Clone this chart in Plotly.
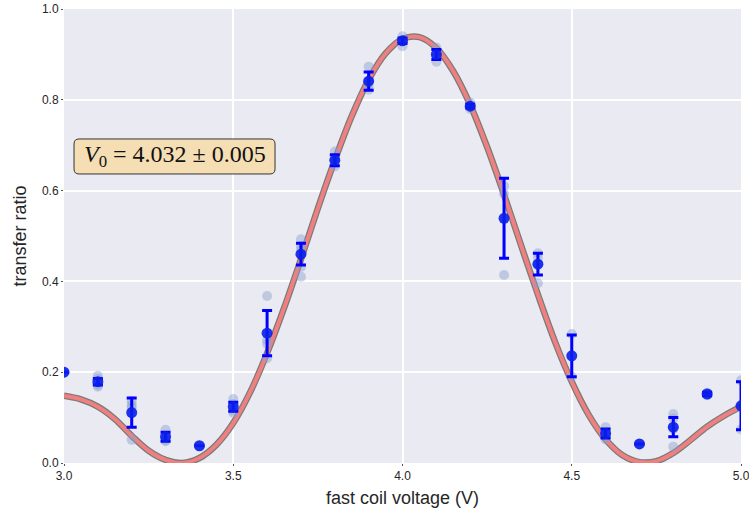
import plotly.graph_objects as go

# measured points (mean and error) per voltage
voltages = [3.0, 3.1, 3.2, 3.3, 3.4, 3.5, 3.6, 3.7, 3.8, 3.9, 4.0, 4.1, 4.2, 4.3, 4.4, 4.5, 4.6, 4.7, 4.8, 4.9, 5.0]
means = [0.200, 0.179, 0.111, 0.058, 0.038, 0.124, 0.286, 0.460, 0.667, 0.841, 0.930, 0.900, 0.786,
         0.539, 0.438, 0.236, 0.065, 0.042, 0.079, 0.152, 0.126]
errors = [0.0, 0.007, 0.032, 0.010, 0.0, 0.010, 0.050, 0.024, 0.012, 0.020, 0.006, 0.011, 0.004,
          0.088, 0.024, 0.046, 0.010, 0.0, 0.021, 0.004, 0.053]

# individual samples
samples = [
    [0.200],
    [0.192, 0.185, 0.172, 0.168],
    [0.136, 0.128, 0.122, 0.051],
    [0.073, 0.060, 0.050, 0.048],
    [0.038],
    [0.141, 0.130, 0.115, 0.110],
    [0.368, 0.271, 0.262, 0.231],
    [0.493, 0.478, 0.470, 0.432, 0.410],
    [0.686, 0.668, 0.653, 0.660],
    [0.873, 0.840, 0.830, 0.822],
    [0.940, 0.930, 0.918],
    [0.915, 0.900, 0.884],
    [0.794, 0.785, 0.780],
    [0.610, 0.593, 0.414],
    [0.462, 0.452, 0.440, 0.396],
    [0.284, 0.190],
    [0.079, 0.068, 0.060, 0.052],
    [0.042],
    [0.108, 0.098, 0.075, 0.036],
    [0.155, 0.150],
    [0.182, 0.074],
]

# fitted curve
curve_x = [3.00, 3.05, 3.10, 3.15, 3.20, 3.25, 3.30, 3.35, 3.40, 3.45, 3.50, 3.55, 3.60, 3.65, 3.70,
           3.75, 3.80, 3.85, 3.90, 3.95, 4.00, 4.05, 4.10, 4.15, 4.20, 4.25, 4.30, 4.35, 4.40, 4.45,
           4.50, 4.55, 4.60, 4.65, 4.70, 4.75, 4.80, 4.85, 4.90, 4.95, 5.00]
curve_y = [0.148, 0.140, 0.124, 0.097, 0.060, 0.027, 0.007, 0.000, 0.011, 0.040, 0.088, 0.156, 0.242,
           0.341, 0.449, 0.561, 0.667, 0.764, 0.844, 0.902, 0.934, 0.938, 0.914, 0.863, 0.789, 0.696,
           0.591, 0.480, 0.371, 0.268, 0.179, 0.106, 0.052, 0.017, 0.002, 0.004, 0.022, 0.050, 0.080,
           0.104, 0.124]

annotation_text = "<i>V</i><sub>0</sub> = 4.032 ± 0.005"
x_ticks = [3.0, 3.5, 4.0, 4.5, 5.0]
y_ticks = [0.0, 0.2, 0.4, 0.6, 0.8, 1.0]

sx, sy = [], []
for v, s in zip(voltages, samples):
    for val in s:
        sx.append(v)
        sy.append(val)

fig = go.Figure()
fig.add_trace(go.Scatter(x=curve_x, y=curve_y, mode="lines", line=dict(color="#7a7a7a", width=6.5, shape="spline"),
                         showlegend=False, hoverinfo="skip"))
fig.add_trace(go.Scatter(x=curve_x, y=curve_y, mode="lines", line=dict(color="#F08080", width=4, shape="spline"),
                         showlegend=False))
fig.add_trace(go.Scatter(x=sx, y=sy, mode="markers",
                         marker=dict(size=10, color="rgba(140,160,205,0.45)", line=dict(width=0)),
                         showlegend=False))
fig.add_trace(go.Scatter(x=voltages, y=means, mode="markers",
                         marker=dict(size=11, color="rgba(10,30,235,0.9)", line=dict(width=0)),
                         error_y=dict(type="data", array=errors, color="#0000ff", thickness=3, width=5),
                         showlegend=False))

# rounded box behind the annotation (paper coordinates)
bx0, bx1, by0, by1 = 0.0148, 0.3117, 0.6366, 0.7137
rx, ry = 0.0075, 0.011
box_path = (f"M {bx0+rx},{by0} L {bx1-rx},{by0} Q {bx1},{by0} {bx1},{by0+ry} "
            f"L {bx1},{by1-ry} Q {bx1},{by1} {bx1-rx},{by1} L {bx0+rx},{by1} "
            f"Q {bx0},{by1} {bx0},{by1-ry} L {bx0},{by0+ry} Q {bx0},{by0} {bx0+rx},{by0} Z")
fig.add_shape(type="path", path=box_path, xref="paper", yref="paper",
              fillcolor="#F5DEB3", line=dict(color="#333333", width=1), layer="above")

fig.add_annotation(x=(bx0 + bx1) / 2, y=(by0 + by1) / 2 + 0.002, xref="paper", yref="paper",
                   text=annotation_text, showarrow=False, xanchor="center", yanchor="middle",
                   font=dict(family="Liberation Serif", size=24, color="#111"))

axis_common = dict(showgrid=True, gridcolor="white", gridwidth=1.5, zeroline=False, showline=False,
                   ticks="outside", ticklen=2, tickcolor="#555555", ticklabeloverflow="allow",
                   tickfont=dict(family="Liberation Sans", size=12, color="#262626"))
fig.update_xaxes(range=[3.0, 5.0], tickvals=x_ticks, ticktext=[f"{t:.1f}" for t in x_ticks],
                 title=dict(text="fast coil voltage (V)", font=dict(family="Liberation Sans", size=18, color="#262626"),
                            standoff=8), **axis_common)
fig.update_yaxes(range=[0.0, 1.0], tickvals=y_ticks, ticktext=[f"{t:.1f}" for t in y_ticks],
                 title=dict(text="transfer ratio", font=dict(family="Liberation Sans", size=18, color="#262626"),
                            standoff=10), **axis_common)

fig.update_layout(width=749, height=518, margin=dict(l=64, r=8, t=9, b=55, autoexpand=False),
                  plot_bgcolor="#EAEAF2", paper_bgcolor="white")

fig.write_html("out.html")
